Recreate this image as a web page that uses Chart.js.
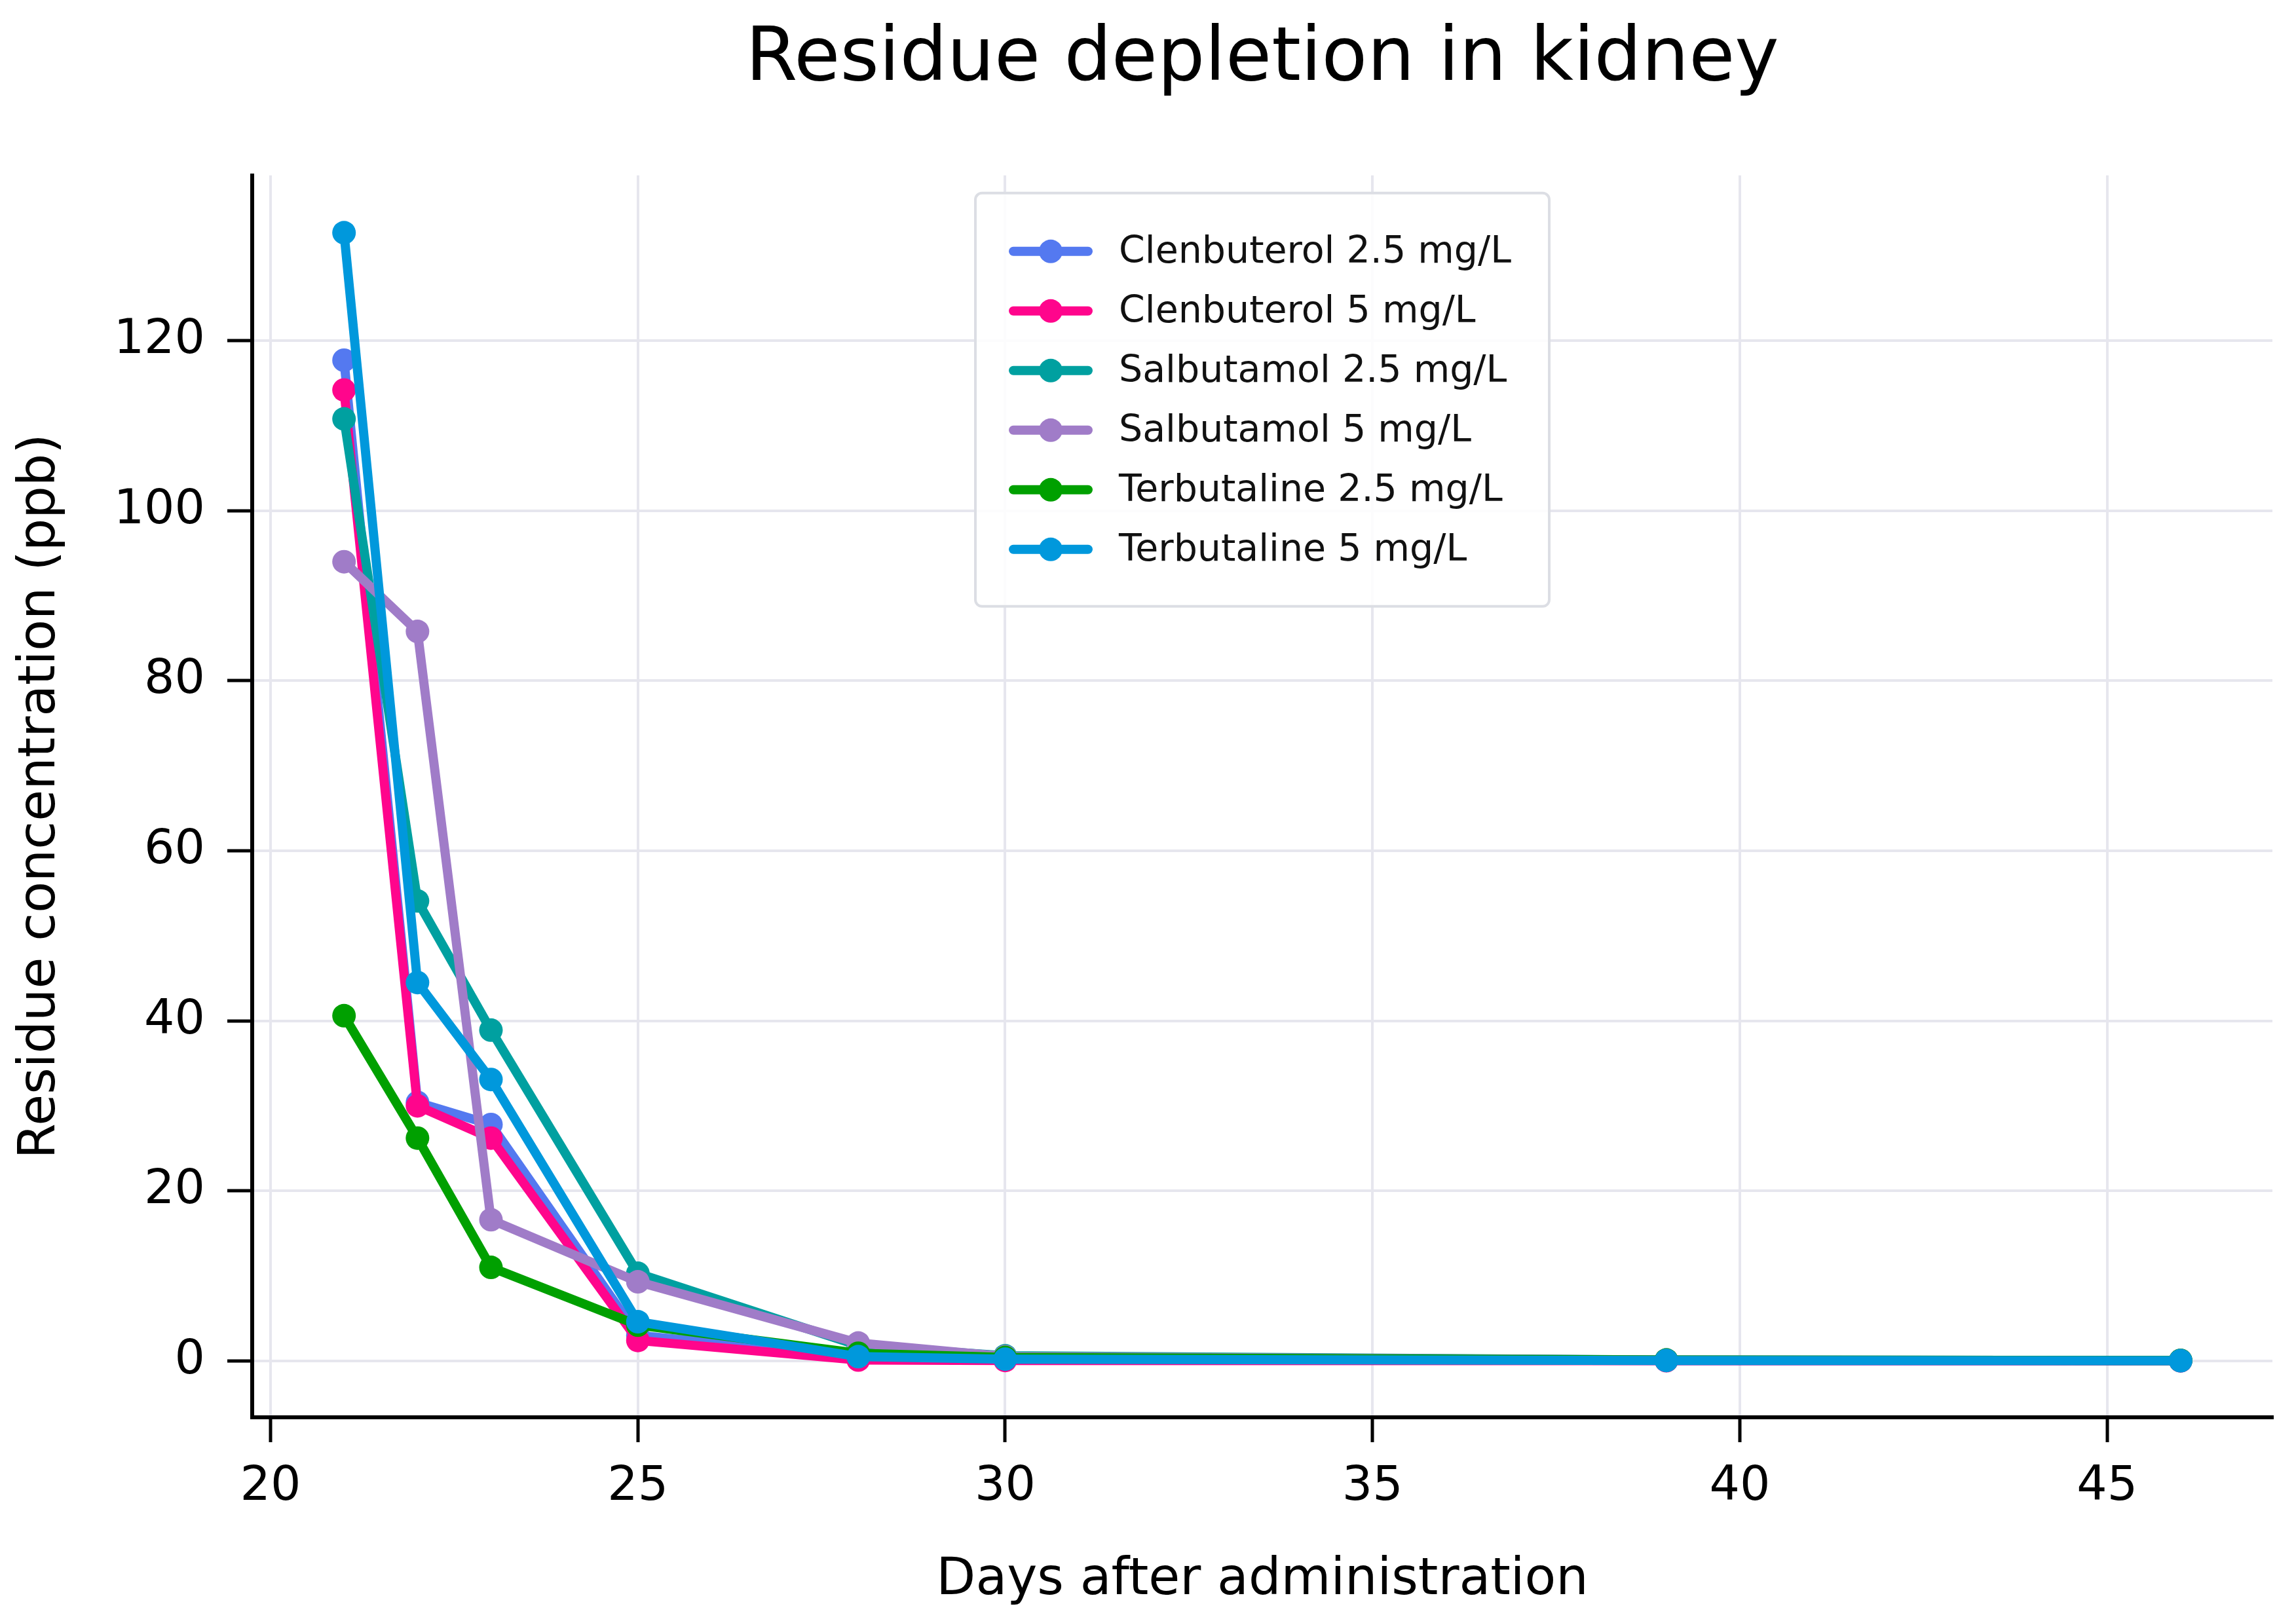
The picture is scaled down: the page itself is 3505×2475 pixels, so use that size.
<!DOCTYPE html>
<html>
<head>
<meta charset="utf-8">
<script src="https://cdn.jsdelivr.net/npm/chart.js@4.4.1/dist/chart.umd.min.js"></script>
<style>
  body { margin: 0; background: #fff; }
  canvas { display: block; }
</style>
</head>
<body>
<canvas id="kidneyChart" width="3505" height="2475"></canvas>
<script>
// data
var days = [21, 22, 23, 25, 28, 30, 39, 46];
var seriesNames = ["Clenbuterol 2.5 mg/L", "Clenbuterol 5 mg/L", "Salbutamol 2.5 mg/L",
                   "Salbutamol 5 mg/L", "Terbutaline 2.5 mg/L", "Terbutaline 5 mg/L"];
var clen25 = [117.7, 30.4, 27.8, 3.0, 0.5, 0.2, 0.05, 0.02];
var clen5 = [114.2, 30.0, 26.2, 2.4, 0.1, 0.05, 0.02, 0.01];
var salb25 = [110.8, 54.1, 38.9, 10.3, 1.8, 0.6, 0.1, 0.05];
var salb5 = [94.0, 85.8, 16.6, 9.3, 2.1, 0.5, 0.1, 0.05];
var terb25 = [40.6, 26.2, 11.0, 4.2, 0.9, 0.4, 0.1, 0.05];
var terb5 = [132.7, 44.5, 33.1, 4.6, 0.5, 0.2, 0.05, 0.02];
var seriesColors = ["#5479f0", "#ff058c", "#00a0a0", "#a07cc8", "#00a000", "#0098dc"];
var xTicks = [20, 25, 30, 35, 40, 45];
var yTicks = [0, 20, 40, 60, 80, 100, 120];

var allSeries = [clen25, clen5, salb25, salb5, terb25, terb5];
var FONT = '"DejaVu Sans", "Liberation Sans", sans-serif';

var datasets = allSeries.map(function (vals, i) {
    return {
        label: seriesNames[i],
        data: vals.map(function (v, j) { return { x: days[j], y: v }; }),
        borderColor: seriesColors[i],
        backgroundColor: seriesColors[i],
        pointBackgroundColor: seriesColors[i],
        borderWidth: 14,
        pointRadius: 18,
        pointBorderWidth: 0,
        tension: 0,
        order: allSeries.length - i  // last series on top, like matplotlib
    };
});

// legend box inside the plot, upper centre
var legendBox = {
    id: 'legendBox',
    afterDatasetsDraw: function (chart) {
        var ctx = chart.ctx, area = chart.chartArea;
        var sets = chart.data.datasets;
        ctx.save();
        ctx.font = '57px ' + FONT;
        var textW = Math.max.apply(null, sets.map(function (d) { return ctx.measureText(d.label).width; }));
        var w = 219 + textW + 58;
        var rowH = 91;
        var h = 89 + 87 + rowH * (sets.length - 1);
        var x0 = (area.left + area.right) / 2 - w / 2;
        var y0 = area.top + 27;
        ctx.fillStyle = 'rgba(255,255,255,0.85)';
        ctx.strokeStyle = '#dcdee4';
        ctx.lineWidth = 4;
        ctx.beginPath();
        ctx.roundRect(x0, y0, w, h, 10);
        ctx.fill();
        ctx.stroke();
        sets.forEach(function (d, i) {
            var y = y0 + 89 + i * rowH;
            ctx.strokeStyle = d.borderColor;
            ctx.lineWidth = d.borderWidth;
            ctx.lineCap = 'round';
            ctx.beginPath();
            ctx.moveTo(x0 + 58, y);
            ctx.lineTo(x0 + 172, y);
            ctx.stroke();
            ctx.fillStyle = d.borderColor;
            ctx.beginPath();
            ctx.arc(x0 + 115, y, 18, 0, Math.PI * 2);
            ctx.fill();
            ctx.fillStyle = '#111';
            ctx.textBaseline = 'middle';
            ctx.textAlign = 'left';
            ctx.fillText(d.label, x0 + 219, y + 2);
        });
        ctx.restore();
    }
};

var ctx = document.getElementById('kidneyChart').getContext('2d');
var myChart = new Chart(ctx, {
    type: 'line',
    data: { datasets: datasets },
    plugins: [legendBox],
    options: {
        responsive: false,
        animation: false,
        devicePixelRatio: 1,
        layout: { padding: { left: 0, right: 36, top: 0, bottom: 0 } },
        plugins: {
            legend: { display: false },
            tooltip: { enabled: false },
            title: {
                display: true,
                text: 'Residue depletion in kidney',
                fullSize: false,
                color: '#000',
                font: { family: FONT, size: 114, weight: 'normal', lineHeight: 1.2 },
                padding: { top: 24, bottom: 107 }
            }
        },
        scales: {
            x: {
                type: 'linear',
                min: 19.75,
                max: 47.25,
                afterBuildTicks: function (scale) {
                    scale.ticks = xTicks.map(function (v) { return { value: v }; });
                },
                afterFit: function (scale) { scale.height = 311; },
                grid: {
                    color: '#e6e6ee',
                    lineWidth: 4,
                    tickColor: '#000',
                    tickLength: 38,
                    tickWidth: 5
                },
                border: { color: '#000', width: 6 },
                ticks: {
                    color: '#000',
                    padding: 25,
                    maxRotation: 0,
                    font: { family: FONT, size: 73 }
                },
                title: {
                    display: true,
                    text: 'Days after administration',
                    color: '#000',
                    font: { family: FONT, size: 78, lineHeight: 1.2 },
                    padding: { top: 0, bottom: 14 }
                }
            },
            y: {
                type: 'linear',
                min: -6.64,
                max: 139.44,
                afterBuildTicks: function (scale) {
                    scale.ticks = yTicks.map(function (v) { return { value: v }; });
                },
                afterFit: function (scale) { scale.width = 385; },
                grid: {
                    color: '#e6e6ee',
                    lineWidth: 4,
                    tickColor: '#000',
                    tickLength: 38,
                    tickWidth: 5
                },
                border: { color: '#000', width: 6 },
                ticks: {
                    color: '#000',
                    padding: 34,
                    font: { family: FONT, size: 73 }
                },
                title: {
                    display: true,
                    text: 'Residue concentration (ppb)',
                    color: '#000',
                    font: { family: FONT, size: 78, lineHeight: 1.2 },
                    padding: { top: 16, bottom: 0 }
                }
            }
        }
    }
});
</script>
</body>
</html>
